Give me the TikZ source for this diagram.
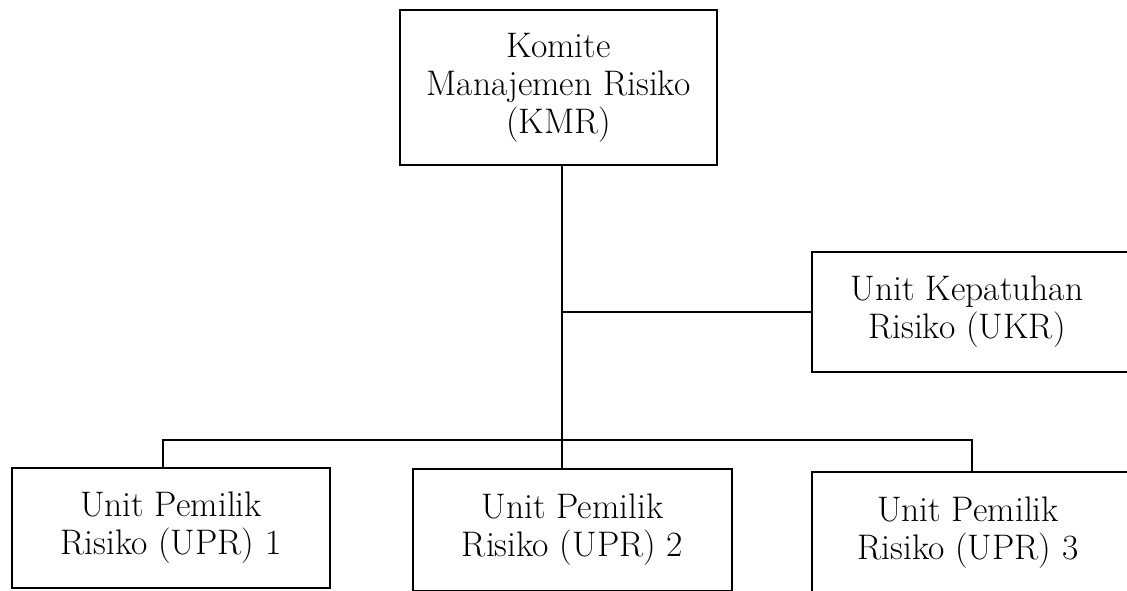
\documentclass[tikz,border=0pt]{standalone}
\usepackage{fontspec}
\begin{document}
\begin{tikzpicture}[x=1pt,y=1pt,line width=1.6pt,
		unitfont/.style={align=center,font=\fontsize{35.5}{38}\selectfont},
		unitbox/.style={draw,rectangle,inner sep=0pt,unitfont}]
		\useasboundingbox (0,0) rectangle (1127,590);
		\clip (0,0) rectangle (1127,590);
		\node[unitbox,minimum width=317,minimum height=155] (kmr) at (558.5,502.5) {Komite\\Manajemen Risiko\\(KMR)};
		\node[unitbox,minimum width=330,minimum height=120,
			label={[unitfont,xshift=-10]center:Unit Kepatuhan\\Risiko (UKR)}] (ukr) at (977,278) {};
		\node[unitbox,minimum width=318,minimum height=120] (upr1) at (171,62) {Unit Pemilik\\Risiko (UPR) 1};
		\node[unitbox,minimum width=319,minimum height=122] (upr2) at (572.5,60) {Unit Pemilik\\Risiko (UPR) 2};
		\node[unitbox,minimum width=330,minimum height=120,
			label={[unitfont,xshift=-9,yshift=-1]center:Unit Pemilik\\Risiko (UPR) 3}] (upr3) at (977,58) {};
		\coordinate (joint) at (562,150);
		\coordinate (b1) at (163,150);
		\coordinate (b3) at (972,150);
		\draw (kmr.south -| joint) -- (joint) -- (joint |- upr2.north);
		\draw (joint |- ukr.west) -- (ukr.west);
		\draw (b1 |- upr1.north) -- (b1) -- (b3) -- (b3 |- upr3.north);
\end{tikzpicture}
\end{document}
